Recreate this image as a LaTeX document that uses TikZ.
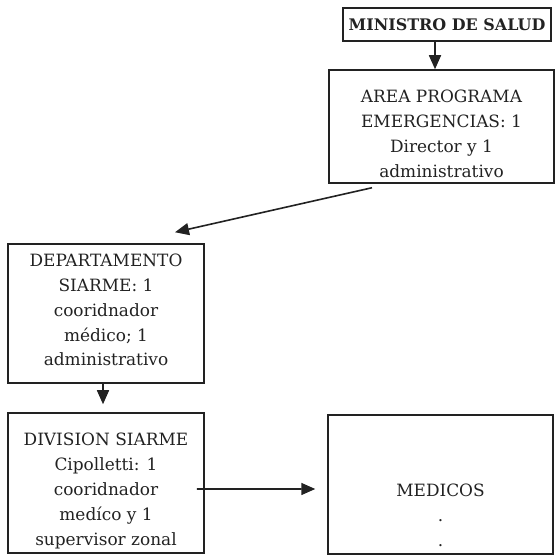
\documentclass[tikz,border=0pt]{standalone}
\usepackage{fontspec}
\setmainfont{DejaVu Serif}
\usetikzlibrary{arrows.meta}
\definecolor{ink}{HTML}{222222}
\tikzset{
  box/.style={draw=ink, line width=1.5bp, rectangle, inner sep=0pt},
  lbl/.style={align=center, text=ink, font=\fontsize{17}{25}\selectfont, inner sep=0pt},
  arr/.style={draw=ink, line width=1.6bp, -{Triangle[length=14bp,width=12bp]}}
}
\begin{document}
\begin{tikzpicture}[x=1bp,y=1bp]
\useasboundingbox (0,0) rectangle (555,556);
% boxes
\node[box, line width=2bp, minimum width=208bp, minimum height=33bp] (ministro) at (447,531.5)
  {\fontsize{16}{20}\selectfont\bfseries\color{ink} MINISTRO DE SALUD};
\node[box, minimum width=225bp, minimum height=113bp] (area) at (441.5,429.5) {};
\node[lbl] (areatxt) at (441.5,422) {AREA PROGRAMA\\EMERGENCIAS: 1\\Director y 1\\administrativo};
\node[box, minimum width=196bp, minimum height=139bp] (dept) at (106,242.5) {};
\node[lbl] (depttxt) at (106,246) {DEPARTAMENTO\\SIARME: 1\\cooridnador\\médico; 1\\administrativo};
\node[box, minimum width=196bp, minimum height=140bp] (division) at (106,73) {};
\node[lbl] (divtxt) at (106,65) {DIVISION SIARME\\Cipolletti: 1\\cooridnador\\medíco y 1\\supervisor zonal};
\node[box, minimum width=225bp, minimum height=139bp] (medicos) at (440.5,71.5) {};
\node[lbl] (medtxt) at (440.5,41) {MEDICOS\\.\\.};
% connectors
\draw[arr] ([xshift=-12bp]ministro.south) -- ([xshift=-6.5bp]area.north);
\draw[arr] ([xshift=-69.5bp,yshift=-4bp]area.south) -- ([xshift=69bp,yshift=11bp]dept.north);
\draw[arr] ([xshift=-3bp]dept.south) -- ([xshift=-3bp,yshift=8bp]division.north);
\draw[arr] ([xshift=-8bp,yshift=-6bp]division.east) -- ([xshift=-12bp,yshift=-4.5bp]medicos.west);
\end{tikzpicture}
\end{document}
